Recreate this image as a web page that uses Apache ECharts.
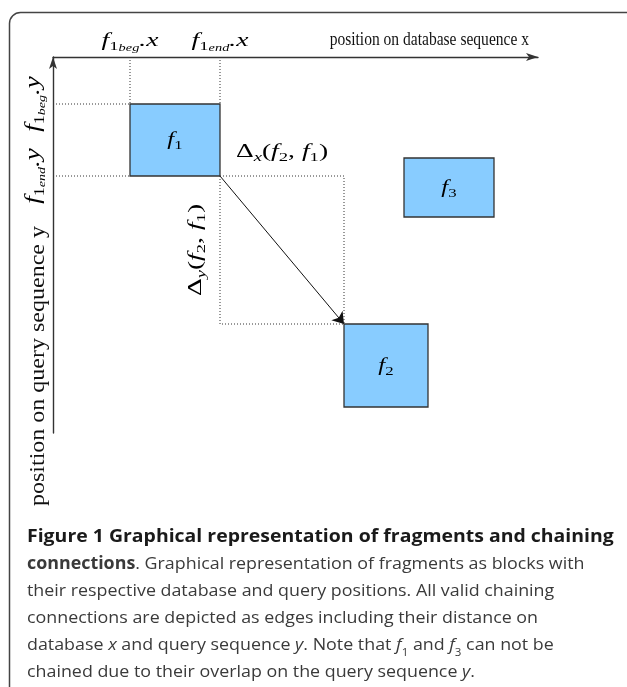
<!DOCTYPE html>
<html><head><meta charset="utf-8">
<script src="https://cdn.jsdelivr.net/npm/echarts@6/dist/echarts.min.js"></script>
<style>html,body{margin:0;padding:0;background:#fff}#c{width:627px;height:687px}</style>
</head><body><div id="c"></div>
<script>
// ---- data ----
const fragNames = ['f', 'f', 'f'];
const fragIndex = ['1', '2', '3'];
const fragXBeg = [77, 291, 351];
const fragXEnd = [167, 375, 441];
const fragYBeg = [47, 267, 101];
const fragYEnd = [119, 350, 160];
const chainFrom = [0];
const chainTo = [1];
const xTickValues = [77, 167];
const xTickSubs = ['beg', 'end'];
const yTickValues = [47, 119];
const yTickSubs = ['beg', 'end'];
const xAxisMax = 485;
const yAxisMax = 376;
const axisNameX = 'position on database sequence x';
const axisNameY = 'position on query sequence y';
const captionTitle = 'Figure 1 Graphical representation of fragments and chaining';
const captionLines = [
  '{b|connections}{r|. Graphical representation of fragments as blocks with}',
  '{r|their respective database and query positions. All valid chaining}',
  '{r|connections are depicted as edges including their distance on}',
  '{r|database }{ri|x}{r| and query sequence }{ri|y}{r|. Note that }{ri|f}{rs|1}{r| and }{ri|f}{rs|3}{r| can not be}',
  '{r|chained due to their overlap on the query sequence }{ri|y}{r|.}'
];

// ---- styles ----
const MF = 'Liberation Serif';
const INK = '#111';
function mathRich(base) {
  return {
    i: {fontFamily: MF, fontStyle: 'italic', fontSize: base, color: INK, lineHeight: base * 1.3},
    n: {fontFamily: MF, fontSize: base, color: INK, lineHeight: base * 1.3},
    s: {fontFamily: MF, fontSize: base * 0.68, color: INK, verticalAlign: 'bottom', lineHeight: base * 0.85},
    si: {fontFamily: MF, fontStyle: 'italic', fontSize: base * 0.68, color: INK, verticalAlign: 'bottom', lineHeight: base * 0.85},
    ss: {fontFamily: MF, fontStyle: 'italic', fontSize: base * 0.52, color: INK, verticalAlign: 'bottom', lineHeight: base * 0.42}
  };
}
const richSmall = mathRich(19);
const richLarge = mathRich(20);
const MATH_STRETCH = 1.45;
const CF = 'Open Sans';
const capRich = {
  b: {fontFamily: CF, fontWeight: 'bold', fontSize: 17, color: '#1a1a1a', lineHeight: 27},
  r: {fontFamily: CF, fontSize: 17, color: '#3a3a3a', lineHeight: 27},
  ri: {fontFamily: CF, fontStyle: 'italic', fontSize: 17, color: '#3a3a3a', lineHeight: 27},
  rs: {fontFamily: CF, fontSize: 11, color: '#3a3a3a', verticalAlign: 'bottom', lineHeight: 20}
};
const dotted = {stroke: '#333', lineWidth: 1, lineDash: [1, 2], fill: null};

const chart = echarts.init(document.getElementById('c'), null, {renderer: 'canvas'});

chart.setOption({
  animation: false,
  backgroundColor: '#fff',
  grid: {left: 53, top: 57, width: xAxisMax, height: yAxisMax},
  xAxis: {
    type: 'value', position: 'top', min: 0, max: xAxisMax,
    splitLine: {show: false}, axisTick: {show: false}, axisLabel: {show: false},
    axisLine: {show: true, symbol: ['none', 'arrow'], symbolSize: [6, 12], lineStyle: {color: '#333', width: 1.4}}
  },
  yAxis: {
    type: 'value', inverse: true, min: 0, max: yAxisMax,
    splitLine: {show: false}, axisTick: {show: false}, axisLabel: {show: false},
    axisLine: {show: true, symbol: ['none', 'arrow'], symbolSize: [6, 12], lineStyle: {color: '#333', width: 1.4}}
  },
  graphic: [
    {type: 'rect', silent: true, shape: {x: 9.5, y: 12.5, width: 700, height: 760, r: [11, 0, 0, 0]},
      style: {fill: 'none', stroke: '#444', lineWidth: 1.5}, z: 0},
    {type: 'text', x: 27, y: 523.5, scaleX: 1.144, silent: true,
      style: {text: captionTitle, fontFamily: CF, fontWeight: 'bold', fontSize: 17, lineHeight: 27, fill: '#1a1a1a'}},
    {type: 'text', x: 27, y: 550.5, scaleX: 1.05, silent: true,
      style: {text: captionLines.join('\n'), rich: capRich, fill: '#3a3a3a'}}
  ],
  series: [
    { // axis names
      type: 'custom', coordinateSystem: 'cartesian2d', silent: true,
      data: [[xAxisMax, 0]],
      renderItem(params, api) {
        const pEnd = api.coord([xAxisMax, 0]);
        const pBot = api.coord([0, yAxisMax]);
        return {type: 'group', children: [
          {type: 'text', x: pEnd[0] - 9, y: pEnd[1] - 17, scaleX: 0.84,
            style: {text: axisNameX, fontFamily: MF, fontSize: 18.5, fill: INK, align: 'right', verticalAlign: 'middle'}},
          {type: 'text', x: pBot[0] - 14, y: pBot[1] + 73, rotation: Math.PI / 2, scaleX: 1.2,
            style: {text: axisNameY, fontFamily: MF, fontSize: 20, fill: INK, align: 'left', verticalAlign: 'middle'}}
        ]};
      }
    },
    { // tick labels for f1 begin/end on x
      type: 'custom', coordinateSystem: 'cartesian2d', silent: true,
      data: xTickValues.map((v, k) => [v, 0, k]),
      renderItem(params, api) {
        const p = api.coord([api.value(0), 0]);
        const k = api.value(2);
        return {type: 'text', x: p[0], y: p[1] - 16, scaleX: MATH_STRETCH,
          style: {text: '{i|f}{s|1}{ss|' + xTickSubs[k] + '}{i|.x}', rich: richSmall, align: 'center', verticalAlign: 'middle'}};
      }
    },
    { // tick labels for f1 begin/end on y
      type: 'custom', coordinateSystem: 'cartesian2d', silent: true,
      data: yTickValues.map((v, k) => [0, v, k]),
      renderItem(params, api) {
        const p = api.coord([0, api.value(1)]);
        const k = api.value(2);
        return {type: 'text', x: p[0] - 19, y: p[1], rotation: Math.PI / 2, scaleX: 1.35,
          style: {text: '{i|f}{s|1}{ss|' + yTickSubs[k] + '}{i|.y}', rich: richLarge, align: 'center', verticalAlign: 'middle'}};
      }
    },
    { // guide lines from f1 to the axes
      type: 'custom', coordinateSystem: 'cartesian2d', silent: true,
      data: [[0, 0]],
      renderItem(params, api) {
        const ch = [];
        xTickValues.forEach(xv => {
          const a = api.coord([xv, 0]), b = api.coord([xv, yTickValues[0]]);
          ch.push({type: 'line', shape: {x1: a[0], y1: a[1], x2: b[0], y2: b[1]}, style: dotted});
        });
        yTickValues.forEach(yv => {
          const a = api.coord([0, yv]), b = api.coord([xTickValues[0], yv]);
          ch.push({type: 'line', shape: {x1: a[0], y1: a[1], x2: b[0], y2: b[1]}, style: dotted});
        });
        return {type: 'group', children: ch};
      }
    },
    { // chaining distance boxes
      type: 'custom', coordinateSystem: 'cartesian2d', silent: true,
      data: chainFrom.map((f, k) => [fragXEnd[f], fragYEnd[f], fragXBeg[chainTo[k]], fragYBeg[chainTo[k]], f, chainTo[k]]),
      encode: {x: [0, 2], y: [1, 3]},
      renderItem(params, api) {
        const p0 = api.coord([api.value(0), api.value(1)]);
        const p1 = api.coord([api.value(2), api.value(3)]);
        const a = fragIndex[api.value(4)], b = fragIndex[api.value(5)];
        return {type: 'group', children: [
          {type: 'rect', shape: {x: p0[0], y: p0[1], width: p1[0] - p0[0], height: p1[1] - p0[1]}, style: dotted},
          {type: 'text', x: (p0[0] + p1[0]) / 2, y: p0[1] - 24, scaleX: MATH_STRETCH,
            style: {text: '{n|Δ}{si|x}{n|(}{i|f}{s|' + b + '}{n|, }{i|f}{s|' + a + '}{n|)}', rich: richSmall, align: 'center', verticalAlign: 'middle'}},
          {type: 'text', x: p0[0] - 24, y: (p0[1] + p1[1]) / 2, rotation: Math.PI / 2, scaleX: MATH_STRETCH,
            style: {text: '{n|Δ}{si|y}{n|(}{i|f}{s|' + b + '}{n|, }{i|f}{s|' + a + '}{n|)}', rich: richSmall, align: 'center', verticalAlign: 'middle'}}
        ]};
      }
    },
    { // chaining edges
      type: 'lines', coordinateSystem: 'cartesian2d', silent: true,
      symbol: ['none', 'arrow'], symbolSize: [6, 11],
      lineStyle: {color: '#111', width: 1, opacity: 1},
      data: chainFrom.map((f, k) => ({coords: [[fragXEnd[f], fragYEnd[f]], [fragXBeg[chainTo[k]], fragYBeg[chainTo[k]]]]}))
    },
    { // fragments
      type: 'custom', coordinateSystem: 'cartesian2d', silent: true,
      data: fragNames.map((n, i) => [fragXBeg[i], fragYBeg[i], fragXEnd[i], fragYEnd[i], i]),
      encode: {x: [0, 2], y: [1, 3]},
      renderItem(params, api) {
        const p0 = api.coord([api.value(0), api.value(1)]);
        const p1 = api.coord([api.value(2), api.value(3)]);
        const i = api.value(4);
        return {type: 'group', children: [
          {type: 'rect', shape: {x: p0[0], y: p0[1], width: p1[0] - p0[0], height: p1[1] - p0[1]},
            style: {fill: '#88CCFF', stroke: '#333', lineWidth: 1.3}},
          {type: 'text', x: (p0[0] + p1[0]) / 2, y: (p0[1] + p1[1]) / 2, scaleX: 1.3,
            style: {text: '{i|' + fragNames[i] + '}{s|' + fragIndex[i] + '}', rich: richSmall, align: 'center', verticalAlign: 'middle'}}
        ]};
      }
    }
  ]
});
</script></body></html>
